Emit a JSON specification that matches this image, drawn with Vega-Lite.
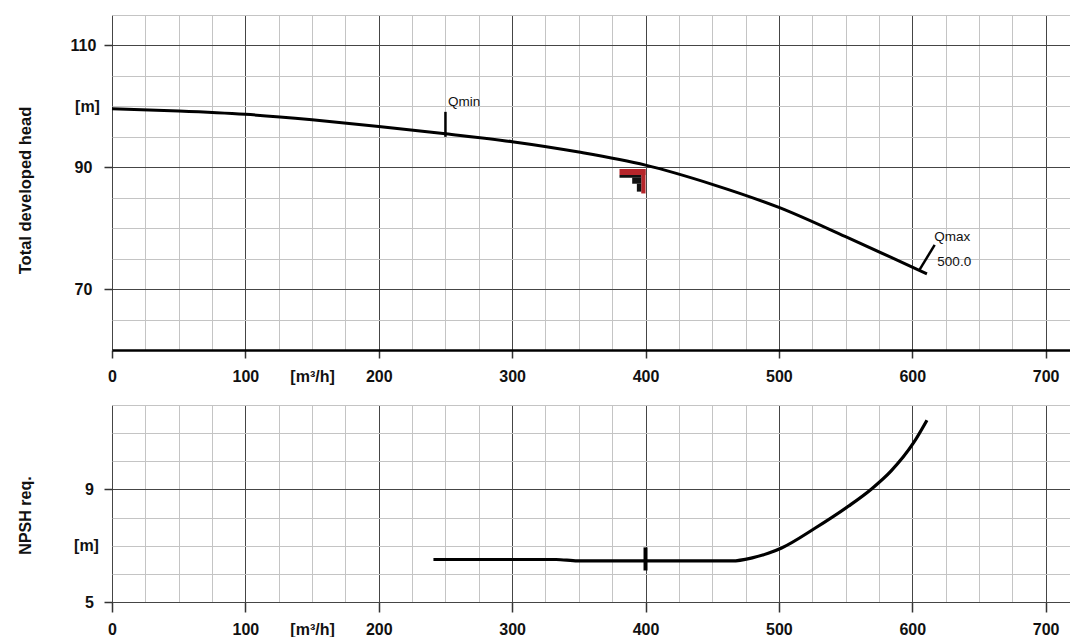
{
  "$schema": "https://vega.github.io/schema/vega-lite/v6.json",
  "background": "white",
  "padding": {"left": 16, "top": 15, "right": 0, "bottom": 0},
  "bounds": "flush",
  "spacing": 55,
  "config": {"view": {"stroke": null}},
  "datasets": {
    "head": [
      {"q": 0, "h": 99.6}, {"q": 50, "h": 99.25}, {"q": 100, "h": 98.7}, {"q": 150, "h": 97.8},
      {"q": 200, "h": 96.7}, {"q": 250, "h": 95.5}, {"q": 300, "h": 94.2}, {"q": 350, "h": 92.5},
      {"q": 400, "h": 90.35}, {"q": 450, "h": 87.2}, {"q": 500, "h": 83.4}, {"q": 550, "h": 78.6},
      {"q": 600, "h": 73.6}, {"q": 611, "h": 72.5}
    ],
    "npsh": [
      {"q": 241, "n": 6.51}, {"q": 333, "n": 6.51}, {"q": 349, "n": 6.46}, {"q": 465, "n": 6.46},
      {"q": 480, "n": 6.57}, {"q": 492, "n": 6.73}, {"q": 502, "n": 6.92}, {"q": 527, "n": 7.62},
      {"q": 552, "n": 8.4}, {"q": 569, "n": 9.0}, {"q": 584, "n": 9.65}, {"q": 601, "n": 10.66},
      {"q": 611, "n": 11.46}
    ],
    "redbox": [
      {"q": 396.8, "q2": 400, "h": 85.7, "h2": 89.7},
      {"q": 380.5, "q2": 400, "h": 88.75, "h2": 89.7}
    ],
    "stairs": [
      {"q": 380.5, "q2": 396.8, "h": 88.3, "h2": 88.75},
      {"q": 390, "q2": 396.8, "h": 87.3, "h2": 88.3},
      {"q": 393.5, "q2": 396.8, "h": 86.0, "h2": 87.3}
    ],
    "qmin": [{"q": 250, "h": 95.0, "h2": 99.1}],
    "qmax": [{"q": 605.5, "q2": 616.8, "h": 73.2, "h2": 77.25}],
    "headText": [
      {"q": 616.5, "h": 78.55, "t": "Qmax"},
      {"q": 252, "h": 100.75, "t": "Qmin"},
      {"q": 618.8, "h": 74.4, "t": "500.0"}
    ],
    "npshTick": [{"q": 400, "n": 6.12, "n2": 6.94}]
  },
  "vconcat": [
    {
      "width": 959,
      "height": 335,
      "resolve": {"axis": {"x": "independent", "y": "independent"}},
      "layer": [
        {
          "data": {"name": "redbox"},
          "mark": {"type": "rect", "color": "#b5252a"},
          "encoding": {
            "x": {"field": "q", "type": "quantitative", "scale": {"domain": [0, 719], "nice": false, "zero": false},
              "axis": {"orient": "bottom", "values": [25,50,75,125,150,175,225,250,275,325,350,375,425,450,475,525,550,575,625,650,675], "grid": true, "gridColor": "#c4c4c4", "gridWidth": 1, "labels": false, "ticks": false, "domain": false, "title": null}},
            "x2": {"field": "q2"},
            "y": {"field": "h", "type": "quantitative", "scale": {"domain": [60, 115], "nice": false, "zero": false},
              "axis": {"orient": "left", "values": [65,75,80,85,95,100,105,115], "grid": true, "gridColor": "#c4c4c4", "gridWidth": 1, "labels": false, "ticks": false, "domain": false, "title": null}},
            "y2": {"field": "h2"}
          }
        },
        {
          "data": {"name": "stairs"},
          "mark": {"type": "rect", "color": "#111111"},
          "encoding": {
            "x": {"field": "q", "type": "quantitative", "scale": {"domain": [0, 719], "nice": false, "zero": false}, "axis": null},
            "x2": {"field": "q2"},
            "y": {"field": "h", "type": "quantitative", "scale": {"domain": [60, 115], "nice": false, "zero": false}, "axis": null},
            "y2": {"field": "h2"}
          }
        },
        {
          "data": {"name": "head"},
          "mark": {"type": "line", "color": "#000000", "strokeWidth": 3, "interpolate": "monotone"},
          "encoding": {
            "x": {"field": "q", "type": "quantitative", "scale": {"domain": [0, 719], "nice": false, "zero": false},
              "axis": {"orient": "bottom", "values": [0,100,200,300,400,500,600,700], "grid": true, "gridColor": "#454545", "gridWidth": 1,
                "ticks": true, "tickSize": 8, "tickColor": "#333333", "tickWidth": 1.5,
                "domain": true, "domainColor": "#000000", "domainWidth": 2.5,
                "labelFont": "Liberation Sans", "labelFontWeight": "bold", "labelFontSize": 16, "labelColor": "#111111",
                "labelPadding": 10, "labelFlush": false, "labelOverlap": false, "title": null}},
            "y": {"field": "h", "type": "quantitative", "scale": {"domain": [60, 115], "nice": false, "zero": false},
              "axis": {"orient": "left", "values": [70, 90, 110], "grid": true, "gridColor": "#454545", "gridWidth": 1,
                "ticks": true, "tickSize": 8, "tickColor": "#333333", "tickWidth": 1.5, "domain": false,
                "labelFont": "Liberation Sans", "labelFontWeight": "bold", "labelFontSize": 16, "labelColor": "#111111",
                "labelAlign": "center", "labelBaseline": "middle", "labelPadding": 21, "labelFlush": false, "labelOverlap": false,
                "title": "Total developed head", "titleX": -87, "titleY": 175, "titleAngle": -90, "titleAlign": "center", "titleBaseline": "middle",
                "titleFont": "Liberation Sans", "titleFontSize": 16.5, "titleFontWeight": "bold", "titleColor": "#111111"}}
          }
        },
        {
          "data": {"name": "qmin"},
          "mark": {"type": "rule", "color": "#000000", "strokeWidth": 2.5},
          "encoding": {
            "x": {"field": "q", "type": "quantitative", "scale": {"domain": [0, 719], "nice": false, "zero": false}, "axis": null},
            "y": {"field": "h", "type": "quantitative", "scale": {"domain": [60, 115], "nice": false, "zero": false}, "axis": null},
            "y2": {"field": "h2"}
          }
        },
        {
          "data": {"name": "qmax"},
          "mark": {"type": "rule", "color": "#000000", "strokeWidth": 2.5},
          "encoding": {
            "x": {"field": "q", "type": "quantitative", "scale": {"domain": [0, 719], "nice": false, "zero": false}, "axis": null},
            "x2": {"field": "q2"},
            "y": {"field": "h", "type": "quantitative", "scale": {"domain": [60, 115], "nice": false, "zero": false}, "axis": null},
            "y2": {"field": "h2"}
          }
        },
        {
          "data": {"name": "headText"},
          "mark": {"type": "text", "align": "left", "baseline": "middle", "font": "Liberation Sans", "fontSize": 13.5, "color": "#111111"},
          "encoding": {
            "x": {"field": "q", "type": "quantitative", "scale": {"domain": [0, 719], "nice": false, "zero": false},
              "axis": {"orient": "bottom", "values": [150], "labelExpr": "'[m³/h]'", "grid": false, "ticks": false, "domain": false,
                "labelFont": "Liberation Sans", "labelFontWeight": "bold", "labelFontSize": 16, "labelColor": "#111111",
                "labelPadding": 18, "labelFlush": false, "labelOverlap": false, "title": null}},
            "y": {"field": "h", "type": "quantitative", "scale": {"domain": [60, 115], "nice": false, "zero": false},
              "axis": {"orient": "left", "values": [100], "labelExpr": "'[m]'", "grid": false, "ticks": false, "domain": false,
                "labelFont": "Liberation Sans", "labelFontWeight": "bold", "labelFontSize": 16, "labelColor": "#111111",
                "labelAlign": "center", "labelBaseline": "middle", "labelPadding": 25, "labelFlush": false, "labelOverlap": false, "title": null}},
            "text": {"field": "t"}
          }
        }
      ]
    },
    {
      "width": 959,
      "height": 197,
      "resolve": {"axis": {"x": "independent", "y": "independent"}},
      "layer": [
        {
          "data": {"name": "npsh"},
          "mark": {"type": "line", "color": "#000000", "strokeWidth": 3.2, "interpolate": "monotone"},
          "encoding": {
            "x": {"field": "q", "type": "quantitative", "scale": {"domain": [0, 719], "nice": false, "zero": false},
              "axis": {"orient": "bottom", "values": [25,50,75,125,150,175,225,250,275,325,350,375,425,450,475,525,550,575,625,650,675], "grid": true, "gridColor": "#c4c4c4", "gridWidth": 1, "labels": false, "ticks": false, "domain": false, "title": null}},
            "y": {"field": "n", "type": "quantitative", "scale": {"domain": [5, 12], "nice": false, "zero": false},
              "axis": {"orient": "left", "values": [6, 7, 8, 10, 11, 12], "grid": true, "gridColor": "#c4c4c4", "gridWidth": 1, "labels": false, "ticks": false, "domain": false, "title": null}}
          }
        },
        {
          "data": {"name": "npshTick"},
          "mark": {"type": "rule", "color": "#000000", "strokeWidth": 4},
          "encoding": {
            "x": {"field": "q", "type": "quantitative", "scale": {"domain": [0, 719], "nice": false, "zero": false},
              "axis": {"orient": "bottom", "values": [0,100,200,300,400,500,600,700], "grid": true, "gridColor": "#454545", "gridWidth": 1,
                "ticks": true, "tickSize": 10, "tickColor": "#333333", "tickWidth": 1.5,
                "domain": true, "domainColor": "#454545", "domainWidth": 1,
                "labelFont": "Liberation Sans", "labelFontWeight": "bold", "labelFontSize": 16, "labelColor": "#111111",
                "labelPadding": 9, "labelFlush": false, "labelOverlap": false, "title": null}},
            "y": {"field": "n", "type": "quantitative", "scale": {"domain": [5, 12], "nice": false, "zero": false},
              "axis": {"orient": "left", "values": [5, 9], "grid": true, "gridColor": "#454545", "gridWidth": 1,
                "ticks": true, "tickSize": 8, "tickColor": "#333333", "tickWidth": 1.5, "domain": false,
                "labelFont": "Liberation Sans", "labelFontWeight": "bold", "labelFontSize": 16, "labelColor": "#111111",
                "labelAlign": "center", "labelBaseline": "middle", "labelPadding": 15, "labelFlush": false, "labelOverlap": false,
                "title": "NPSH req.", "titleX": -87, "titleY": 110, "titleAngle": -90, "titleAlign": "center", "titleBaseline": "middle",
                "titleFont": "Liberation Sans", "titleFontSize": 16, "titleFontWeight": "bold", "titleColor": "#111111"}},
            "y2": {"field": "n2"}
          }
        },
        {
          "data": {"name": "npshTick"},
          "mark": {"type": "text", "text": "", "opacity": 0},
          "encoding": {
            "x": {"field": "q", "type": "quantitative", "scale": {"domain": [0, 719], "nice": false, "zero": false},
              "axis": {"orient": "bottom", "values": [150], "labelExpr": "'[m³/h]'", "grid": false, "ticks": false, "domain": false,
                "labelFont": "Liberation Sans", "labelFontWeight": "bold", "labelFontSize": 16, "labelColor": "#111111",
                "labelPadding": 19, "labelFlush": false, "labelOverlap": false, "title": null}},
            "y": {"field": "n", "type": "quantitative", "scale": {"domain": [5, 12], "nice": false, "zero": false},
              "axis": {"orient": "left", "values": [7], "labelExpr": "'[m]'", "grid": false, "ticks": false, "domain": false,
                "labelFont": "Liberation Sans", "labelFontWeight": "bold", "labelFontSize": 16, "labelColor": "#111111",
                "labelAlign": "center", "labelBaseline": "middle", "labelPadding": 26, "labelFlush": false, "labelOverlap": false, "title": null}}
          }
        }
      ]
    }
  ]
}
